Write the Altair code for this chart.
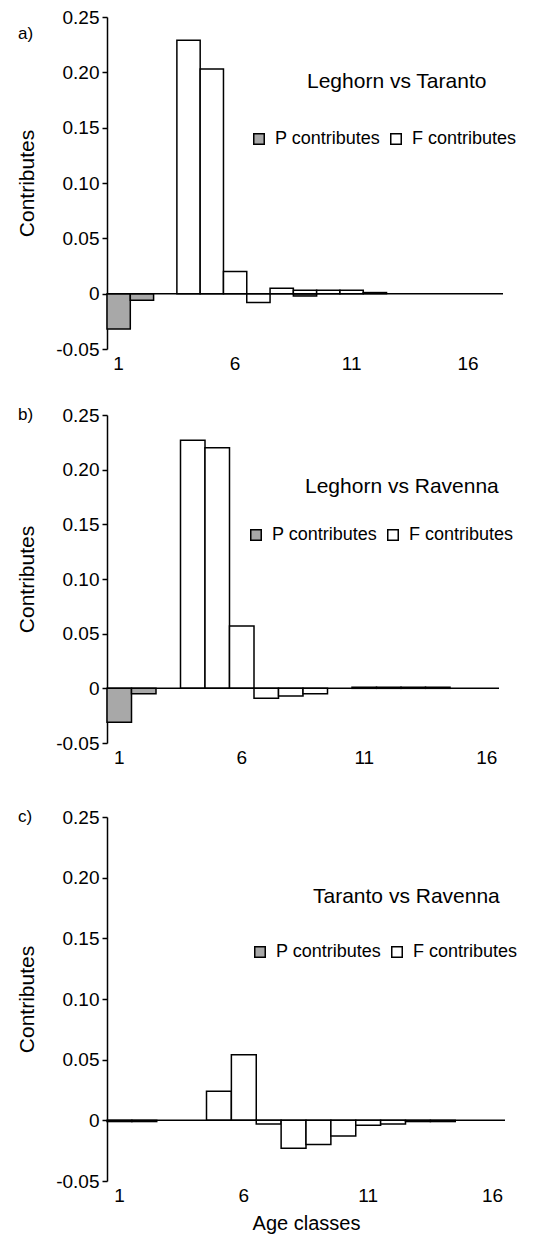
import altair as alt
import pandas as pd

FONT = "Liberation Sans"
GRAY = "#a8a8a8"

# ---- data ----
ages_a = list(range(1, 18))
ages_bc = list(range(1, 17))

p_a = [-0.032, -0.006, 0, 0, 0, 0, 0, 0, -0.002, 0, 0, 0, 0, 0, 0, 0, 0]
f_a = [0, 0, 0, 0.229, 0.203, 0.020, -0.008, 0.005, 0.003, 0.003, 0.003, 0.001, 0, 0, 0, 0, 0]

p_b = [-0.031, -0.005, 0, 0, 0, 0, 0, 0, 0, 0, 0, 0, 0, 0, 0, 0]
f_b = [0, 0, 0, 0.227, 0.220, 0.057, -0.009, -0.007, -0.005, 0, 0.001, 0.001, 0.001, 0.001, 0, 0]

p_c = [-0.001, -0.001, 0, 0, 0, 0, 0, 0, 0, 0, 0, 0, 0, 0, 0, 0]
f_c = [0, 0, 0, 0, 0.024, 0.054, -0.003, -0.023, -0.020, -0.013, -0.004, -0.003, -0.001, -0.001, 0, 0]

series_names = ["P contributes", "F contributes"]
panel_letters = ["a)", "b)", "c)"]
panel_titles = ["Leghorn vs Taranto", "Leghorn vs Ravenna", "Taranto vs Ravenna"]
x_tick_values = [1, 6, 11, 16]
y_tick_values = [-0.05, 0, 0.05, 0.10, 0.15, 0.20, 0.25]


def make_df(ages, p, f):
    rows = []
    for a, pv, fv in zip(ages, p, f):
        if pv != 0:
            rows.append({"age": a, "series": series_names[0], "value": pv, "ord": 0})
        if fv != 0:
            rows.append({"age": a, "series": series_names[1], "value": fv, "ord": 1})
    return pd.DataFrame(rows)


def panel(ages, p, f, letter, title_text, w, h, letter_y, title_xy, legend_xy,
          xtitle=None, extra_top=0):
    df = make_df(ages, p, f)
    xaxis_kwargs = dict(values=x_tick_values, labelAngle=0, domain=False, ticks=False,
                        labelFontSize=19, labelFont=FONT, labelColor="black",
                        labelPadding=5, grid=False)
    if xtitle:
        xaxis_kwargs.update(title=xtitle, titleFont=FONT, titleFontSize=20,
                            titleFontWeight="normal", titleColor="black", titlePadding=8)
    else:
        xaxis_kwargs.update(title=None)
    bars = alt.Chart(df).mark_bar(stroke="black", strokeWidth=1.5).encode(
        x=alt.X("age:O", scale=alt.Scale(domain=ages, paddingInner=0, paddingOuter=0),
                axis=alt.Axis(**xaxis_kwargs)),
        y=alt.Y("value:Q", stack="zero",
                scale=alt.Scale(domain=[-0.05, 0.25], nice=False, zero=False),
                axis=alt.Axis(values=y_tick_values, grid=False, title="Contributes",
                              labelExpr="datum.value == 0 ? '0' : replace(format(datum.value, '.2f'), '\u2212', '-')",
                              labelFont=FONT, labelFontSize=19, labelColor="black",
                              labelPadding=3, tickSize=5, tickWidth=1.5, tickColor="black",
                              domainColor="black", domainWidth=1.5,
                              titleFont=FONT, titleFontSize=21, titleFontWeight="normal",
                              titleColor="black", titlePadding=18)),
        fill=alt.Fill("series:N",
                      scale=alt.Scale(domain=series_names, range=[GRAY, "white"]),
                      legend=alt.Legend(orient="none", legendX=legend_xy[0],
                                        legendY=legend_xy[1], direction="horizontal",
                                        title=None, symbolType="square", symbolSize=110,
                                        symbolStrokeColor="black", symbolStrokeWidth=1.5,
                                        labelFont=FONT, labelFontSize=18,
                                        labelColor="black", labelOffset=7,
                                        columnPadding=6)),
        order=alt.Order("ord:Q"),
    )
    zero = alt.Chart(pd.DataFrame({"z": [0]})).mark_rule(color="black", strokeWidth=1.5).encode(
        y=alt.datum(0), x=alt.value(0), x2=alt.value(w))
    lab = alt.Chart(pd.DataFrame({"t": [letter]})).mark_text(
        align="left", baseline="middle", font=FONT, fontSize=17, color="black").encode(
        x=alt.value(-89), y=alt.value(letter_y), text="t:N")
    ttl = alt.Chart(pd.DataFrame({"t": [title_text]})).mark_text(
        align="left", baseline="middle", font=FONT, fontSize=21, color="black").encode(
        x=alt.value(title_xy[0]), y=alt.value(title_xy[1]), text="t:N")
    layers = [bars, zero, lab, ttl]
    if extra_top:
        spacer = alt.Chart(pd.DataFrame({"z": [0]})).mark_rule(opacity=0).encode(
            x=alt.value(0), y=alt.value(-extra_top), y2=alt.value(0))
        layers.append(spacer)
    return alt.layer(*layers).properties(width=w, height=h)


pa = panel(ages_a, p_a, f_a, panel_letters[0], panel_titles[0], 396, 332, 17,
           (200, 65), (143, 113))
pb = panel(ages_bc, p_b, f_b, panel_letters[1], panel_titles[1], 392, 328, 0,
           (198, 72), (140, 111))
pc = panel(ages_bc, p_c, f_c, panel_letters[2], panel_titles[2], 398, 364, 0,
           (206, 80), (144, 126), xtitle="Age classes", extra_top=17)

chart = alt.vconcat(pa, pb, pc, spacing=33).resolve_legend(fill="independent").properties(
    padding={"left": 8, "top": 0, "right": 5, "bottom": 5}
).configure(background="white", view=alt.ViewConfig(stroke=None, strokeWidth=0))

chart.save("out.html", embed_options={"renderer": "svg", "actions": False})
